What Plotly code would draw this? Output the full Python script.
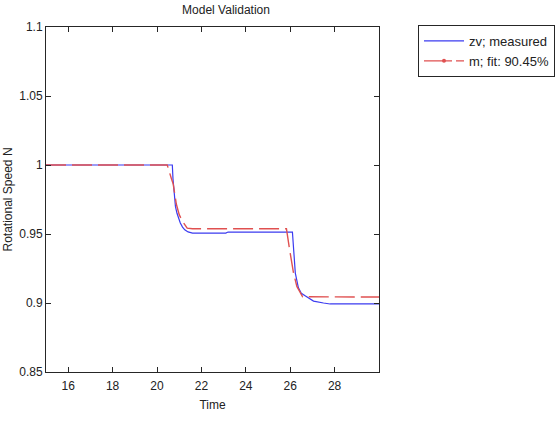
import plotly.graph_objects as go

# Measured output (zv)
t_meas = [15.0, 20.69, 20.72, 20.76, 20.83, 20.9, 20.96, 21.05, 21.15, 21.25, 21.4, 21.6, 23.1, 23.2,
          26.1, 26.15, 26.23, 26.37, 26.5, 26.69, 27.05, 27.5, 27.8, 30.0]
y_meas = [1.0, 1.0, 0.99, 0.98, 0.97, 0.965, 0.962, 0.958, 0.955, 0.953, 0.9515, 0.9507, 0.9507, 0.9514,
          0.9514, 0.94, 0.9217, 0.911, 0.907, 0.905, 0.9014, 0.900, 0.8993, 0.8993]

# Model output (m)
t_mod = [15.0, 20.46, 20.64, 20.73, 20.87, 21.0, 21.14, 21.36, 21.6, 25.83, 25.97, 26.15, 26.3, 26.47, 26.56, 30.0]
y_mod = [1.0, 1.0, 0.9906, 0.9862, 0.9717, 0.964, 0.9594, 0.9543, 0.9538, 0.9538, 0.939, 0.9217, 0.912, 0.9072, 0.9045, 0.9043]

x_ticks = [16, 18, 20, 22, 24, 26, 28]
y_ticks = [0.85, 0.9, 0.95, 1.0, 1.05, 1.1]
y_ticklabels = ["0.85", "0.9", "0.95", "1", "1.05", "1.1"]

blue = "#3b3bf0"
red = "#e05050"
axis_col = "#262626"
font = "Liberation Sans, Arial, sans-serif"

fig = go.Figure()
fig.add_trace(go.Scatter(x=t_meas, y=y_meas, mode="lines", name="zv; measured",
                         line=dict(color=blue, width=1.2)))
fig.add_trace(go.Scatter(x=t_mod, y=y_mod, mode="lines", name="m; fit: 90.45%", showlegend=False,
                         line=dict(color=red, width=1.4, dash="20px,6px")))
fig.add_trace(go.Scatter(x=[None], y=[None], mode="lines+markers", name="m; fit: 90.45%",
                         line=dict(color=red, width=1.2, dash="28px,4px"),
                         marker=dict(color=red, size=4)))

axis_common = dict(showline=True, linecolor=axis_col, linewidth=1, mirror="ticks",
                   ticks="inside", ticklen=5, tickcolor=axis_col, showgrid=False, zeroline=False,
                   tickfont=dict(family=font, size=12, color="#222222"))

fig.update_layout(
    width=558, height=427,
    margin=dict(l=46, r=179, t=27, b=55, autoexpand=False),
    paper_bgcolor="white", plot_bgcolor="white",
    font=dict(family=font, size=12, color="#222222"),
    title=dict(text="Model Validation", x=226 / 558, xanchor="center", y=1 - 10 / 427, yanchor="middle",
               font=dict(family=font, size=12, color="#222222")),
    xaxis=dict(range=[15, 30], tickvals=x_ticks, ticktext=[str(v) for v in x_ticks], ticklabelstandoff=3,
               title=dict(text="Time", standoff=8, font=dict(size=12)), **axis_common),
    yaxis=dict(range=[0.85, 1.1], tickvals=y_ticks, ticktext=y_ticklabels,
               title=dict(text="Rotational Speed N", standoff=4, font=dict(size=12)), **axis_common),
    legend=dict(x=(418 - 46) / 333, xanchor="left", y=(372 - 25) / 345, yanchor="top",
                bordercolor=axis_col, borderwidth=1, bgcolor="white",
                font=dict(family=font, size=13, color="#222222"), itemwidth=40,
                tracegroupgap=0),
    showlegend=True,
)

fig.write_html("out.html")
